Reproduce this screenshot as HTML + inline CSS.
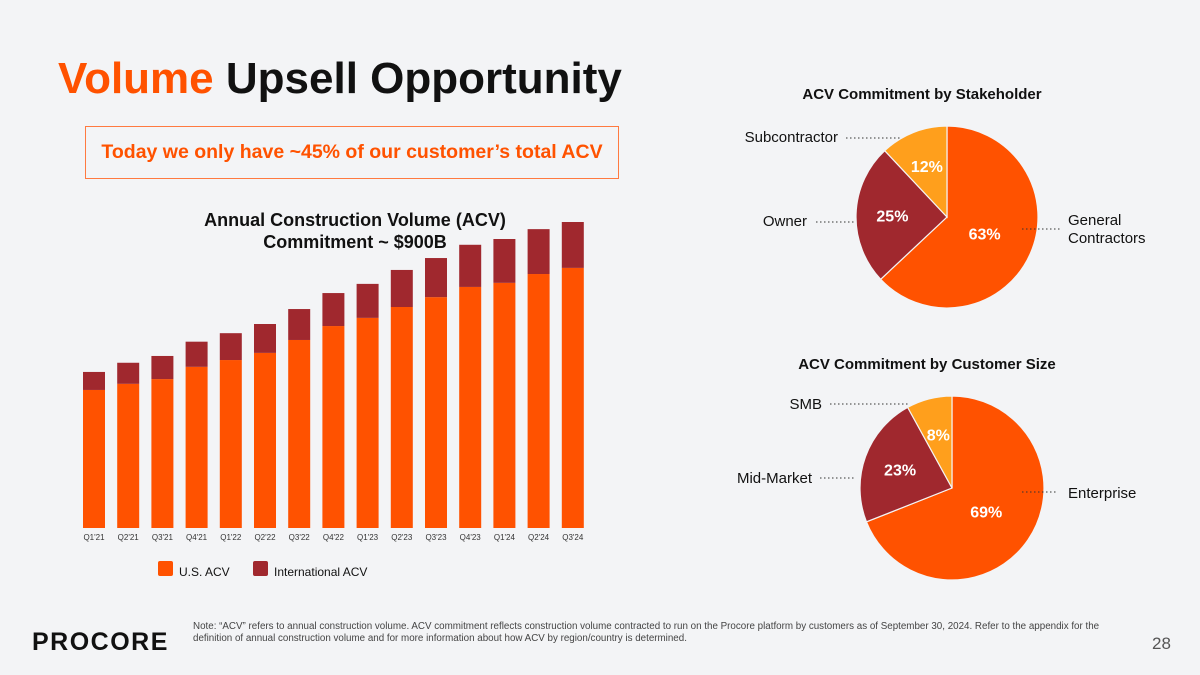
<!DOCTYPE html>
<html><head><meta charset="utf-8"><style>
body{margin:0;width:1200px;height:675px;background:#f3f4f6;font-family:"Liberation Sans",sans-serif;overflow:hidden;position:relative}
.abs{position:absolute}
</style></head><body>
<div class="abs" style="left:58px;top:54px;font-size:44px;font-weight:bold;letter-spacing:0px;color:#111"><span style="color:#ff5200">Volume</span> Upsell Opportunity</div>
<div class="abs" style="left:85px;top:126px;width:534px;height:53px;border:1px solid #ff7a40;box-sizing:border-box;color:#ff5200;font-weight:bold;font-size:19.5px;line-height:51px;text-align:center">Today we only have ~45% of our customer’s total ACV</div>
<div class="abs" style="left:180px;top:209px;width:350px;text-align:center;font-weight:bold;font-size:18px;line-height:22px;color:#111">Annual Construction Volume (ACV)<br>Commitment ~ $900B</div>
<svg class="abs" style="left:0;top:0" width="1200" height="675" id="svg"></svg>
<div class="abs" style="left:193px;top:621px;font-size:9.8px;line-height:12px;color:#444">Note: “ACV” refers to annual construction volume. ACV commitment reflects construction volume contracted to run on the Procore platform by customers as of September 30, 2024. Refer to the appendix for the<br>definition of annual construction volume and for more information about how ACV by region/country is determined.</div>
<div class="abs" style="left:32px;top:628px;font-size:25px;font-weight:900;letter-spacing:1.5px;color:#111">PROCORE</div>
<div class="abs" style="left:1152px;top:634px;font-size:17px;color:#555">28</div>
<script>
const quarters=["Q1'21","Q2'21","Q3'21","Q4'21","Q1'22","Q2'22","Q3'22","Q4'22","Q1'23","Q2'23","Q3'23","Q4'23","Q1'24","Q2'24","Q3'24"];
const usACV=[406,424,438,474,494,515,553,594,618,650,679,709,721,747,765];
const intlACV=[53,62,68,74,79,85,91,97,100,109,115,124,129,132,135];
const stakeLabels=["General Contractors","Owner","Subcontractor"];
const stakeValues=[63,25,12];
const sizeLabels=["Enterprise","Mid-Market","SMB"];
const sizeValues=[69,23,8];
const NS="http://www.w3.org/2000/svg";
const svg=document.getElementById('svg');
function mk(t,a,p){const e=document.createElementNS(NS,t);for(const k in a)e.setAttribute(k,a[k]);(p||svg).appendChild(e);return e;}
const base=528,scale=306/900,x0=83,step=34.2,bw=22;
const yv=v=>base-v*scale;
const xq=i=>x0+i*step;
quarters.forEach((q,i)=>{
  const us=mk('rect',{x:xq(i),y:yv(usACV[i]),width:bw,height:usACV[i]*scale,fill:'#ff5200'});
  
  
  const it=mk('rect',{x:xq(i),y:yv(usACV[i]+intlACV[i]),width:bw,height:intlACV[i]*scale,fill:'#a0282e'});
  
  
  const t=mk('text',{x:xq(i)+bw/2,y:540,'font-size':8,'text-anchor':'middle',fill:'#333'});t.textContent=q;
  
  
});
[[158,'#ff5200','U.S. ACV'],[253,'#a0282e','International ACV']].forEach(([x,c,l])=>{
  const r=mk('rect',{x:x,y:561,width:15,height:15,rx:2,fill:c});
  
  
  const t=mk('text',{x:x+21,y:576,'font-size':12,fill:'#111'});t.textContent=l;
  
  
});
const colors=['#ff5200','#a0282e','#ff9f1c'];
function pie(cx,cy,r,vals,name,title,ty,labels){
  const tt=mk('text',{x:cx-25,y:ty,'font-size':15,'font-weight':'bold','text-anchor':'middle',fill:'#111'});tt.textContent=title;
  
  
  const tot=vals.reduce((a,b)=>a+b,0);let a=0;
  vals.forEach((v,i)=>{
    const a0=a/tot*2*Math.PI,a1=(a+v)/tot*2*Math.PI;a+=v;
    const p=(t)=>[cx+r*Math.sin(t),cy-r*Math.cos(t)];
    const [x1,y1]=p(a0),[x2,y2]=p(a1);
    const s=mk('path',{d:`M${cx},${cy}L${x1},${y1}A${r},${r} 0 ${a1-a0>Math.PI?1:0} 1 ${x2},${y2}Z`,fill:colors[i],stroke:'#f3f4f6','stroke-width':1.2});
    
    
    const m=(a0+a1)/2,rr=i==0?0.45:0.6;
    const lt=mk('text',{x:cx+rr*r*Math.sin(m),y:cy-rr*r*Math.cos(m)+6,'font-size':16,'font-weight':'bold','text-anchor':'middle',fill:'#fff'});lt.textContent=v+'%';
    
    
  });
  labels.forEach(([txt,x,y,lx1,lx2,ly,anchor])=>{
    mk('line',{x1:lx1,x2:lx2,y1:ly,y2:ly,stroke:'#333','stroke-width':1,'stroke-dasharray':'1.5,2.5'});
    const lines=txt.split('|');
    lines.forEach((ln,k)=>{const t=mk('text',{x:x,y:y+k*18,'font-size':15,fill:'#111','text-anchor':anchor});t.textContent=ln;
      
      });
  });
}
pie(947,217,91,stakeValues,'stakeholder-pie','ACV Commitment by Stakeholder',99,[
 ['Subcontractor',838,142,846,902,138,'end'],['Owner',807,226,816,855,222,'end'],['General|Contractors',1068,225,1022,1060,229,'start']]);
pie(952,488,92,sizeValues,'customer-size-pie','ACV Commitment by Customer Size',369,[
 ['SMB',822,409,830,910,404,'end'],['Mid-Market',812,483,820,856,478,'end'],['Enterprise',1068,498,1022,1058,492,'start']]);
</script>
</body></html>
